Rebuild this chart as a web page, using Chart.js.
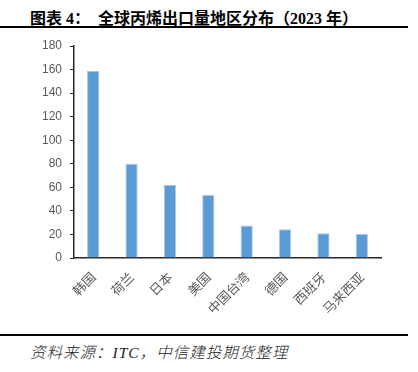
<!DOCTYPE html>
<html>
<head>
<meta charset="utf-8">
<script src="https://cdn.jsdelivr.net/npm/chart.js@4/dist/chart.umd.min.js"></script>
<style>
	body { margin: 0; width: 418px; height: 372px; background: #fff; position: relative; overflow: hidden; }
	.title { position: absolute; left: 30px; top: 5px; font: bold 16px "Liberation Serif", "Noto Sans CJK SC", serif; color: #000; white-space: pre; }
	.rule { position: absolute; left: 0; width: 408px; height: 2px; background: #000; }
	.source { position: absolute; left: 30px; top: 340px; font: italic 300 15.5px "Noto Sans CJK SC", sans-serif; color: #222; white-space: pre; letter-spacing: 1px; }
	.source .lat { font-family: "Liberation Serif", serif; font-weight: 400; }
	#wrap { position: absolute; left: 0; top: 30px; width: 418px; height: 300px; }
</style>
</head>
<body>
<div class="title">图表 4：  全球丙烯出口量地区分布（2023 年）</div>
<div class="rule" style="top:26px"></div>
<div id="wrap"><canvas id="chart-bar"></canvas></div>
<div class="rule" style="top:334px"></div>
<div class="source">资料来源：<span class="lat">ITC</span>，中信建投期货整理</div>

<script>
'use strict';

// Data

var regions = ['韩国', '荷兰', '日本', '美国', '中国台湾', '德国', '西班牙', '马来西亚'];
var exports2023 = [159, 80, 62, 53.5, 27.5, 24.5, 21, 20.5];
var yTicks = [0, 20, 40, 60, 80, 100, 120, 140, 160, 180];

//
// Bar chart
//

var BarChart = (function() {

	var canvas = document.getElementById('chart-bar');

	function init(el) {
		var barChart = new Chart(el, {
			type: 'bar',
			data: {
				labels: regions,
				datasets: [{
					data: exports2023,
					backgroundColor: '#5B9BD5',
					borderColor: '#A7C8EA',
					borderWidth: 1,
					categoryPercentage: 1,
					barPercentage: 0.32
				}]
			},
			options: {
				responsive: true,
				maintainAspectRatio: false,
				animation: false,
				layout: { padding: { top: 16, right: 37, left: 0, bottom: 0 } },
				plugins: {
					legend: { display: false },
					tooltip: { enabled: false }
				},
				scales: {
					x: {
						grid: { display: false },
						border: { display: true, color: '#262626', width: 1.5 },
						ticks: {
							color: '#595959',
							font: { family: '"Noto Sans CJK SC"', size: 13 },
							minRotation: 45,
							maxRotation: 45,
							padding: 3
						},
						afterFit: function(scale) { scale.height = 72; }
					},
					y: {
						min: yTicks[0],
						max: yTicks[yTicks.length - 1],
						afterBuildTicks: function(scale) {
							scale.ticks = yTicks.map(function(v) { return { value: v }; });
						},
						grid: {
							drawOnChartArea: false,
							drawTicks: true,
							tickLength: 4,
							color: '#262626'
						},
						border: { display: true, color: '#262626', width: 1.5 },
						ticks: {
							color: '#595959',
							font: { family: '"Liberation Sans"', size: 12 },
							padding: 8
						},
						afterFit: function(scale) { scale.width = 74; }
					}
				}
			}
		});

		return barChart;
	}

	if (canvas) {
		return init(canvas);
	}

})();
</script>
</body>
</html>
